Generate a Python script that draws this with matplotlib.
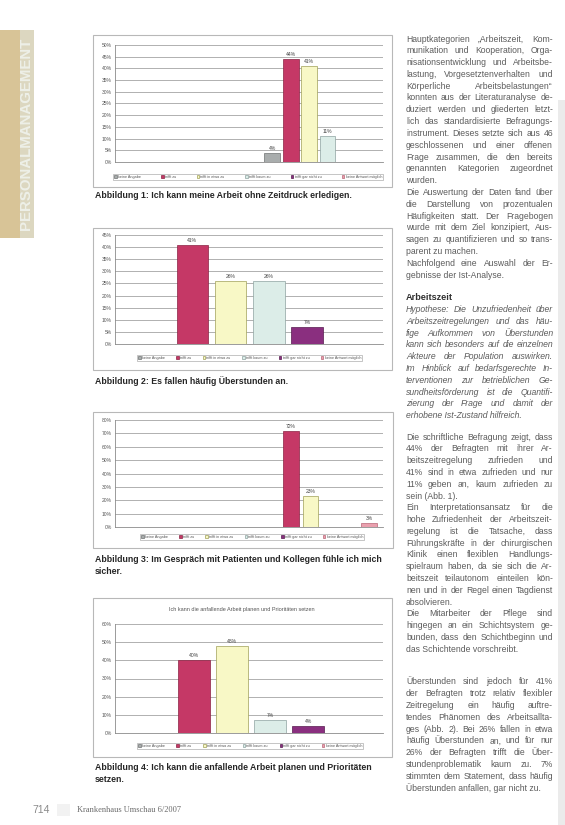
import matplotlib
matplotlib.use("Agg")
import matplotlib.pyplot as plt
from matplotlib.patches import Rectangle

plt.rcParams['font.family'] = ['Liberation Sans', 'DejaVu Sans']

# ---------------- data ----------------
series = ["keine Angabe", "trifft zu", "trifft in etwa zu", "trifft kaum zu",
          "trifft gar nicht zu", "keine Antwort möglich"]
colors = ["#a9adad", "#c53866", "#f8f8c6", "#dcede8", "#8a2f7f", "#eaa0ae"]
edges = ["#6f7373", "#8a2142", "#a0a058", "#8da3a0", "#561a4e", "#b86577"]

abb1_values = [4, 44, 41, 11, 0, 0]
abb2_values = [0, 41, 26, 26, 7, 0]
abb3_values = [0, 72, 23, 0, 0, 3]
abb4_values = [0, 40, 48, 7, 4, 0]

abb1_yticks = [0, 5, 10, 15, 20, 25, 30, 35, 40, 45, 50]
abb2_yticks = [0, 5, 10, 15, 20, 25, 30, 35, 40, 45]
abb3_yticks = [0, 10, 20, 30, 40, 50, 60, 70, 80]
abb4_yticks = [0, 10, 20, 30, 40, 50, 60]

caption1 = ["Abbildung 1: Ich kann meine Arbeit ohne Zeitdruck erledigen."]
caption2 = ["Abbildung 2: Es fallen häufig Überstunden an."]
caption3 = ["Abbildung 3: Im Gespräch mit Patienten und Kollegen fühle ich mich", "sicher."]
caption4 = ["Abbildung 4: Ich kann die anfallende Arbeit planen und Prioritäten", "setzen."]
abb4_title = "Ich kann die anfallende Arbeit planen und Prioritäten setzen"

block1 = [
    ["Hauptkategorien „Arbeitszeit, Kom-",
     "munikation und Kooperation, Orga-",
     "nisationsentwicklung und Arbeitsbe-",
     "lastung, Vorgesetztenverhalten und",
     "Körperliche Arbeitsbelastungen“",
     "konnten aus der Literaturanalyse de-",
     "duziert werden und gliederten letzt-",
     "lich das standardisierte Befragungs-",
     "instrument. Dieses setzte sich aus 46",
     "geschlossenen und einer offenen",
     "Frage zusammen, die den bereits",
     "genannten Kategorien zugeordnet",
     "wurden."],
    ["Die Auswertung der Daten fand über",
     "die Darstellung von prozentualen",
     "Häufigkeiten statt. Der Fragebogen",
     "wurde mit dem Ziel konzipiert, Aus-",
     "sagen zu quantifizieren und so trans-",
     "parent zu machen."],
    ["Nachfolgend eine Auswahl der Er-",
     "gebnisse der Ist-Analyse."],
]
heading2 = "Arbeitszeit"
hypothesis = [
    ["Hypothese: Die Unzufriedenheit über",
     "Arbeitszeitregelungen und das häu-",
     "fige Aufkommen von Überstunden",
     "kann sich besonders auf die einzelnen",
     "Akteure der Population auswirken.",
     "Im Hinblick auf bedarfsgerechte In-",
     "terventionen zur betrieblichen Ge-",
     "sundheitsförderung ist die Quantifi-",
     "zierung der Frage und damit der",
     "erhobene Ist-Zustand hilfreich."],
]
block3 = [
    ["Die schriftliche Befragung zeigt, dass",
     "44% der Befragten mit ihrer Ar-",
     "beitszeitregelung zufrieden und",
     "41% sind in etwa zufrieden und nur",
     "11% geben an, kaum zufrieden zu",
     "sein (Abb. 1)."],
    ["Ein Interpretationsansatz für die",
     "hohe Zufriedenheit der Arbeitszeit-",
     "regelung ist die Tatsache, dass",
     "Führungskräfte in der chirurgischen",
     "Klinik einen flexiblen Handlungs-",
     "spielraum haben, da sie sich die Ar-",
     "beitszeit teilautonom einteilen kön-",
     "nen und in der Regel einen Tagdienst",
     "absolvieren."],
    ["Die Mitarbeiter der Pflege sind",
     "hingegen an ein Schichtsystem ge-",
     "bunden, dass den Schichtbeginn und",
     "das Schichtende vorschreibt."],
]
block4 = [
    ["Überstunden sind jedoch für 41%",
     "der Befragten trotz relativ flexibler",
     "Zeitregelung ein häufig auftre-",
     "tendes Phänomen des Arbeitsallta-",
     "ges (Abb. 2). Bei 26% fallen in etwa",
     "häufig Überstunden an, und für nur",
     "26% der Befragten trifft die Über-",
     "stundenproblematik kaum zu. 7%",
     "stimmten dem Statement, dass häufig",
     "Überstunden anfallen, gar nicht zu."],
]
sidebar_text = "PERSONALMANAGEMENT"
footer_page = "714"
footer_journal = "Krankenhaus Umschau 6/2007"

# ---------------- figure ----------------
W, H = 565, 825
fig = plt.figure(figsize=(W / 100, H / 100), dpi=100)
fig.patch.set_facecolor("white")
renderer = fig.canvas.get_renderer()


def fx(x):
    return x / W


def fy(y):
    return 1 - y / H


def add_rect(x0, y0, x1, y1, **kw):
    r = Rectangle((fx(x0), fy(y1)), (x1 - x0) / W, (y1 - y0) / H,
                  transform=fig.transFigure, **kw)
    fig.add_artist(r)


def text_width(s, **kw):
    t = fig.text(0, 0, s, **kw)
    w = t.get_window_extent(renderer).width
    t.remove()
    return w


def fit_size(s, target, **kw):
    base = 10.0
    return base * target / text_width(s, fontsize=base, **kw)


# page decoration
add_rect(0, 30, 20, 238, facecolor="#d8c497", edgecolor="none")
add_rect(20, 30, 34, 238, facecolor="#dcd7c0", edgecolor="none")
add_rect(558, 100, 565, 825, facecolor="#ebebeb", edgecolor="none")
sb_size = fit_size(sidebar_text, 192, fontweight="bold")
fig.text(fx(26), fy(134), sidebar_text, rotation=90, ha="center", va="center",
         fontsize=sb_size, fontweight="bold", color="#eef0e8")


def chart(values, yticks, box, plot, xlim, width, legend_box, title=None):
    add_rect(*box, fill=False, edgecolor="#b8b8b8", lw=0.8)
    x0, y0, x1, y1 = plot
    ax = fig.add_axes([fx(x0), fy(y1), (x1 - x0) / W, (y1 - y0) / H])
    ax.set_facecolor("none")
    for i, (lab, v, c, ec) in enumerate(zip(series, values, colors, edges)):
        b = ax.bar(i, v, width=width, color=c, edgecolor=ec, lw=0.5,
                   label=lab, zorder=3)
        if v > 0:
            ax.bar_label(b, labels=[f"{v}%"], padding=1.5, fontsize=3.6,
                         color="#444444")
    ax.set_xlim(*xlim)
    ax.set_ylim(0, yticks[-1])
    ax.set_yticks(yticks)
    ax.set_yticklabels([f"{t}%" for t in yticks], fontsize=3.6, color="#555555")
    ax.tick_params(axis="y", length=0, pad=2.5)
    ax.set_xticks([])
    ax.grid(axis="y", color="#a4a4a4", lw=0.6, zorder=0)
    for s in ["top", "right"]:
        ax.spines[s].set_visible(False)
    for s in ["left", "bottom"]:
        ax.spines[s].set_color("#8a8a8a")
        ax.spines[s].set_linewidth(0.6)
    lx0, ly0, lx1, ly1 = legend_box
    leg = ax.legend(loc="center", ncol=6, mode="expand",
                    bbox_to_anchor=(fx(lx0), fy(ly1), (lx1 - lx0) / W, (ly1 - ly0) / H),
                    bbox_transform=fig.transFigure, fontsize=2.7,
                    handlelength=0.7, handleheight=0.7, handletextpad=0.3,
                    columnspacing=0.3, borderpad=0.25, borderaxespad=0,
                    fancybox=False, frameon=True, edgecolor="#999999")
    leg.get_frame().set_linewidth(0.5)
    for t in leg.get_texts():
        t.set_color("#555555")
    if title is not None:
        tx0, ty, tx1 = title[1]
        sz = fit_size(title[0], tx1 - tx0)
        fig.text(fx((tx0 + tx1) / 2), fy(ty), title[0], ha="center",
                 va="center", fontsize=sz, color="#555555")
    return ax


chart(abb1_values, abb1_yticks, (93, 35, 392, 187), (115, 45, 383, 162),
      (-8.5, 6.0), 0.86, (113, 173, 383, 181))
chart(abb2_values, abb2_yticks, (93, 228, 392, 370), (115, 235, 383, 344),
      (-1.02, 5.98), 0.82, (137, 354, 362, 362))
chart(abb3_values, abb3_yticks, (93, 412, 393, 548), (115, 420, 383, 527),
      (-8.0, 5.7), 0.8, (140, 533, 364, 541))
chart(abb4_values, abb4_yticks, (93, 598, 392, 757), (115, 624, 383, 733),
      (-1.08, 5.97), 0.84, (137, 742, 363, 750),
      title=(abb4_title, (168, 609, 315)))

# captions
cap_size = fit_size(caption1[0], 257, fontweight="bold")
for cap, ys in [(caption1, [195]), (caption2, [381]), (caption3, [560, 572]),
                (caption4, [767, 779])]:
    for line, y in zip(cap, ys):
        fig.text(fx(95), fy(y), line, ha="left", va="center", fontsize=cap_size,
                 fontweight="bold", color="#262626")

# body text column
COL_X0, COL_X1 = 406, 553
LS = 11.8
body_kw = dict(fontsize=6.2, color="#5c5c5c")


def put_line(line, y, justify, **kw):
    words = line.split()
    if not justify or len(words) == 1:
        fig.text(fx(COL_X0), fy(y), line, ha="left", va="center", **kw)
        return
    widths = [text_width(w, **kw) for w in words]
    gap = (COL_X1 - COL_X0 - sum(widths)) / (len(words) - 1)
    x = COL_X0
    for w, wd in zip(words, widths):
        fig.text(fx(x), fy(y), w, ha="left", va="center", **kw)
        x += wd + gap


def put_block(paragraphs, y0, **kw):
    y = y0
    for para in paragraphs:
        for j, line in enumerate(para):
            put_line(line, y, j < len(para) - 1, **kw)
            y += LS


put_block(block1, 39, **body_kw)
fig.text(fx(COL_X0), fy(297), heading2, ha="left", va="center",
         fontweight="bold", fontsize=6.6, color="#303030")
put_block(hypothesis, 309.5, style="italic", **body_kw)
put_block(block3, 437, **body_kw)
put_block(block4, 682, **body_kw)

# footer
fig.text(fx(32), fy(810), footer_page, ha="left", va="center", fontsize=7.5,
         color="#8a8a8a")
add_rect(57, 804, 70, 816, facecolor="#f2f2f2", edgecolor="none")
j_size = fit_size(footer_journal, 103, family="Liberation Serif")
fig.text(fx(77), fy(810), footer_journal, ha="left", va="center",
         fontsize=j_size, family="Liberation Serif", color="#6a6a6a")

fig.savefig("out.png", dpi=100, facecolor="white")
